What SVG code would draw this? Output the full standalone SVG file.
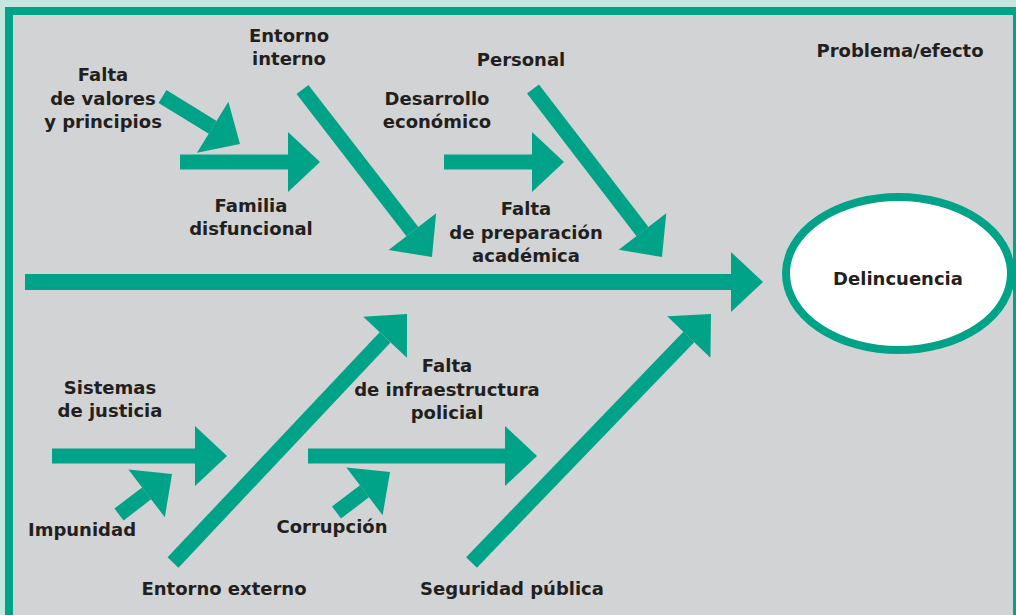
<svg xmlns="http://www.w3.org/2000/svg" width="1016" height="615" viewBox="0 0 1016 615">
<style>
.t{font-family:"DejaVu Sans","Open Sans",sans-serif;font-weight:700;font-size:18px;fill:#231f20;text-anchor:middle}
.a{stroke:#00a388;stroke-width:15;fill:none;marker-end:url(#h)}
</style>
<defs>
<marker id="h" markerUnits="userSpaceOnUse" markerWidth="32" markerHeight="60" refX="0" refY="30" orient="auto" overflow="visible">
<path d="M0,0 L32,30 L0,60 Z" fill="#00a388"/>
</marker>
</defs>
<rect x="0" y="0" width="1016" height="615" fill="#c5e6df"/>
<rect x="9" y="11" width="1008" height="620" fill="#d1d3d4" stroke="#00a388" stroke-width="8"/>
<g id="connectors">
<line class="a" x1="25" y1="282" x2="731" y2="282" style="stroke-width:16"/>
<line class="a" x1="162.5" y1="96.5" x2="212.7" y2="127.3"/>
<line class="a" x1="180" y1="162" x2="288" y2="162"/>
<line class="a" x1="302.5" y1="89.5" x2="412.4" y2="231.7"/>
<line class="a" x1="444" y1="162" x2="532" y2="162"/>
<line class="a" x1="533" y1="89" x2="642.5" y2="231.6"/>
<line class="a" x1="52" y1="456" x2="195" y2="456"/>
<line class="a" x1="119" y1="514.5" x2="146.6" y2="493.4"/>
<line class="a" x1="173" y1="562.5" x2="385.1" y2="337.3"/>
<line class="a" x1="308" y1="456" x2="505" y2="456"/>
<line class="a" x1="336.5" y1="512.5" x2="364.5" y2="491.3"/>
<line class="a" x1="471.5" y1="562.5" x2="688.8" y2="337"/>
</g>
<g id="effect">
<ellipse cx="898.5" cy="273.5" rx="112.5" ry="76.5" fill="#ffffff" stroke="#00a388" stroke-width="8"/>
<text class="t" x="898" y="285">Delincuencia</text>
</g>
<g id="problema"><text class="t" x="900" y="57">Problema/efecto</text></g>
<g id="entorno-interno"><text class="t" x="289" y="42">Entorno</text><text class="t" x="289" y="65">interno</text></g>
<g id="falta-valores"><text class="t" x="103" y="81">Falta</text><text class="t" x="103" y="105">de valores</text><text class="t" x="103" y="128">y principios</text></g>
<g id="familia"><text class="t" x="251" y="212">Familia</text><text class="t" x="251" y="235">disfuncional</text></g>
<g id="personal"><text class="t" x="521" y="66">Personal</text></g>
<g id="desarrollo"><text class="t" x="437" y="105">Desarrollo</text><text class="t" x="437" y="128">económico</text></g>
<g id="preparacion"><text class="t" x="526" y="215">Falta</text><text class="t" x="526" y="239">de preparación</text><text class="t" x="526" y="262">académica</text></g>
<g id="sistemas"><text class="t" x="110" y="394">Sistemas</text><text class="t" x="110" y="417">de justicia</text></g>
<g id="impunidad"><text class="t" x="82" y="536">Impunidad</text></g>
<g id="entorno-externo"><text class="t" x="224" y="595">Entorno externo</text></g>
<g id="infraestructura"><text class="t" x="447" y="372">Falta</text><text class="t" x="447" y="396">de infraestructura</text><text class="t" x="447" y="419">policial</text></g>
<g id="corrupcion"><text class="t" x="332" y="533">Corrupción</text></g>
<g id="seguridad"><text class="t" x="512" y="595">Seguridad pública</text></g>
</svg>
